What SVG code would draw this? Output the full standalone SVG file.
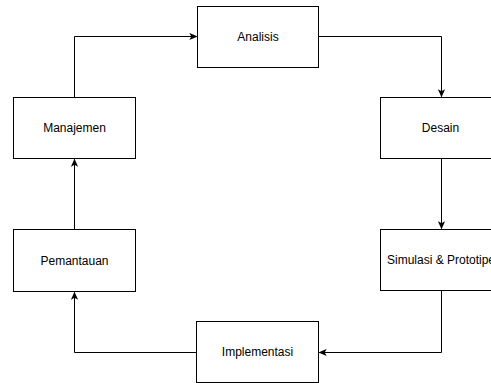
<svg xmlns="http://www.w3.org/2000/svg" width="491" height="383" viewBox="0 0 491 383">
<style>
.box{fill:#fff;stroke:#000;stroke-width:1}
.lbl{font-family:"Liberation Sans",Arial,sans-serif;font-size:12px;fill:#000;text-anchor:middle;dominant-baseline:central}
.edge{fill:none;stroke:#000;stroke-width:1;marker-end:url(#arr)}
</style>
<defs>
<marker id="arr" viewBox="0 0 10 10" refX="9" refY="5" markerWidth="8" markerHeight="8" markerUnits="userSpaceOnUse" orient="auto">
<path d="M0,0.5 L10,5 L0,9.5 L2.5,5 Z" fill="#000"/>
</marker>
</defs>
<rect width="491" height="383" fill="#fff"/>
<g id="connectors">
<path class="edge" d="M74.5,97.5 V36.5 H196.5"/>
<path class="edge" d="M318.5,36.5 H441.5 V96.5"/>
<path class="edge" d="M441.5,158.5 V228.5"/>
<path class="edge" d="M441.5,290.5 V352.5 H319.5"/>
<path class="edge" d="M196.5,352.5 H74.5 V292.5"/>
<path class="edge" d="M74.5,229.5 V159.5"/>
</g>
<g id="analisis"><rect class="box" x="197.5" y="6.5" width="121" height="61"/><text class="lbl" x="258" y="37">Analisis</text></g>
<g id="manajemen"><rect class="box" x="13.5" y="97.5" width="122" height="61"/><text class="lbl" x="74.5" y="128">Manajemen</text></g>
<g id="desain"><rect class="box" x="380.5" y="97.5" width="121" height="61"/><text class="lbl" x="440.5" y="128">Desain</text></g>
<g id="simulasi"><rect class="box" x="380.5" y="229.5" width="121" height="61"/><text class="lbl" x="441" y="260">Simulasi &amp; Prototipe</text></g>
<g id="pemantauan"><rect class="box" x="13.5" y="229.5" width="122" height="62"/><text class="lbl" x="74.5" y="260.5">Pemantauan</text></g>
<g id="implementasi"><rect class="box" x="196.5" y="321.5" width="122" height="61"/><text class="lbl" x="257.5" y="352">Implementasi</text></g>
</svg>
